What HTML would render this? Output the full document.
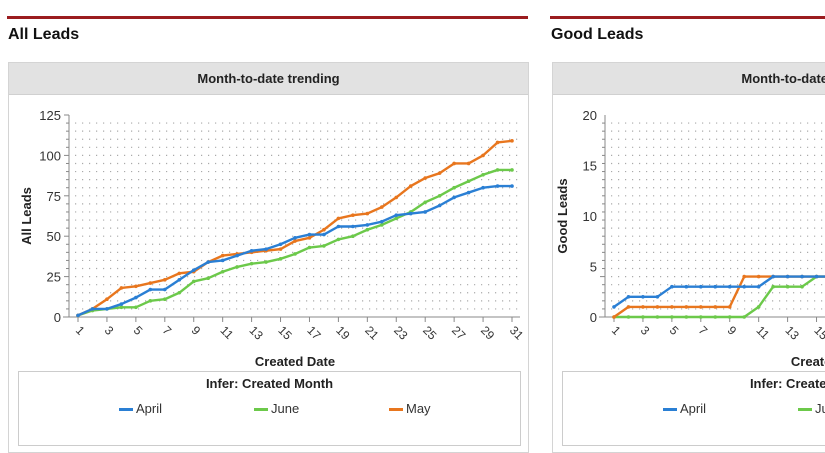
<!DOCTYPE html>
<html><head><meta charset="utf-8">
<style>
html,body{margin:0;width:825px;height:453px;overflow:hidden}
body{background:#fff;font-family:"Liberation Sans",sans-serif;position:relative}
.rule{position:absolute;top:16px;height:3px;background:#9b1c1f}
.title{position:absolute;top:26px;font-size:16px;font-weight:bold;color:#111}
.panel{position:absolute;top:62px;height:389px;border:1px solid #d4d4d4;background:#fff;overflow:hidden}
.phead{position:absolute;left:0;top:0;width:519px;height:31px;background:#e2e2e2;border-bottom:1px solid #d0d0d0;text-align:center;line-height:31px;font-size:13px;font-weight:bold;color:#222}
.legend{position:absolute;top:308px;height:75px;border:1px solid #ccc;box-sizing:border-box}
.ltitle{position:absolute;top:4px;left:0;right:0;text-align:center;font-size:13px;font-weight:bold;color:#222}
.lent{position:absolute;top:29px;font-size:13px;color:#333}
.lent i{display:inline-block;width:14px;height:3px;vertical-align:middle;margin-right:3px}
svg{position:absolute;left:0;top:0}
</style></head><body>
<div class="rule" style="left:7px;width:521px"></div>
<div class="rule" style="left:550px;width:275px"></div>
<div class="title" style="left:8px">All Leads</div>
<div class="title" style="left:551px">Good Leads</div>
<div class="panel" style="left:8px;width:519px">
 <div class="phead">Month-to-date trending</div>
 <div class="legend" style="left:9px;width:503px">
  <div class="ltitle">Infer: Created Month</div>
  <div class="lent" style="left:100px"><i style="background:#2a7fd4"></i>April</div>
  <div class="lent" style="left:235px"><i style="background:#6cc94a"></i>June</div>
  <div class="lent" style="left:370px"><i style="background:#e8761e"></i>May</div>
 </div>
</div>
<div class="panel" style="left:552px;width:272px;border-right:none">
 <div class="phead">Month-to-date trending</div>
 <div class="legend" style="left:9px;width:503px">
  <div class="ltitle">Infer: Created Month</div>
  <div class="lent" style="left:100px"><i style="background:#2a7fd4"></i>April</div>
  <div class="lent" style="left:235px"><i style="background:#6cc94a"></i>June</div>
 </div>
</div>
<svg id="chart" width="825" height="453">
 <defs><clipPath id="frame"><rect x="0" y="0" width="825" height="453"/></clipPath></defs>
</svg>
<script>
const days=[];for(let d=1;d<=31;d++)days.push(d);
const allApril=[1,5,5,8,12,17,17,23,29,34,35,38,41,42,45,49,51,51,56,56,57,59,63,64,65,69,74,77,80,81,81];
const allMay=[1,5,11,18,19,21,23,27,28,34,38,39,40,41,42,47,49,54,61,63,64,68,74,81,86,89,95,95,100,108,109];
const allJune=[1,4,5,6,6,10,11,15,22,24,28,31,33,34,36,39,43,44,48,50,54,57,61,65,71,75,80,84,88,91,91];
const goodApril=[1,2,2,2,3,3,3,3,3,3,3,4,4,4,4,4,4,4,5,5,5,5,5,6,6,6,6,6,6,6,6];
const goodMay=[0,1,1,1,1,1,1,1,1,4,4,4,4,4,4,4,5,5,5,5,5,6,6,6,6,6,7,7,7,7,7];
const goodJune=[0,0,0,0,0,0,0,0,0,0,1,3,3,3,4,4,4,4,4,5,5,5,5,5,6,6,6,6,6,6,6];
const allTicks=[0,25,50,75,100,125];
const goodTicks=[0,5,10,15,20];
const C={april:'#2a7fd4',june:'#6cc94a',may:'#e8761e'};
const NS='http://www.w3.org/2000/svg';
const svg=document.getElementById('chart');
function mk(t,a,p){const e=document.createElementNS(NS,t);for(const k in a)e.setAttribute(k,a[k]);(p||svg).appendChild(e);return e;}
function chart(cfg){
  const g=mk('g',{'clip-path':'url(#frame)'});
  
  
  const X=d=>cfg.x1+(d-1)*(cfg.x31-cfg.x1)/30;
  const Y=v=>cfg.y0-v*(cfg.y0-cfg.yTop)/cfg.max;
  const xEnd=Math.min(cfg.x31+8,825);
  const step=cfg.max/25;
  for(let v=step;v<cfg.max;v+=step){
    const l=mk('line',{x1:cfg.ax+6,x2:xEnd,y1:Y(v),y2:Y(v),stroke:'#aaa','stroke-width':1.2,'stroke-dasharray':'1.2 5.8'},g);
    
    
  }
  mk('line',{x1:cfg.ax,x2:cfg.ax,y1:cfg.yTop,y2:cfg.y0,stroke:'#888'},g);
  mk('line',{x1:cfg.ax-6,x2:xEnd,y1:cfg.y0,y2:cfg.y0,stroke:'#888'},g);
  for(let v=0;v<=cfg.max;v+=step) mk('line',{x1:cfg.ax-(v%(step*5)==0?5:3),x2:cfg.ax,y1:Y(v),y2:Y(v),stroke:'#888'},g);
  cfg.ticks.forEach(v=>{
    const t=mk('text',{x:cfg.ax-8,y:Y(v)+5,'text-anchor':'end','font-size':13,fill:'#333'},g);t.textContent=v;
    
    
  });
  days.forEach(d=>{ if(d%2==1 && X(d)<818){
    mk('line',{x1:X(d),x2:X(d),y1:cfg.y0,y2:cfg.y0+5,stroke:'#888'},g);
    const t=mk('text',{x:X(d)-3,y:cfg.y0+14,'font-size':12,fill:'#333',transform:`rotate(45 ${X(d)-3} ${cfg.y0+14})`},g);t.textContent=d;
    
    
  }});
  const yt=mk('text',{x:0,y:0,'font-size':13,'font-weight':'bold',fill:'#222','text-anchor':'middle',transform:`translate(${cfg.ax-38} ${(cfg.y0+cfg.yTop)/2}) rotate(-90)`},g);
  yt.textContent=cfg.ytitle;
  
  
  const xt=mk('text',{x:(cfg.x1+cfg.x31)/2,y:366,'font-size':13,'font-weight':'bold',fill:'#222','text-anchor':'middle'},g);
  xt.textContent='Created Date';
  
  
  cfg.series.forEach(s=>{
    const idx=s.vals.map((v,i)=>i).filter(i=>X(days[i])<=840);
    const pts=idx.map(i=>X(days[i])+','+Y(s.vals[i])).join(' ');
    const pl=mk('polyline',{points:pts,fill:'none',stroke:s.color,'stroke-width':2.4,'stroke-linejoin':'round'},g);
    
    
    idx.forEach(i=>{
      if(X(days[i])>823) return;
      const c=mk('circle',{cx:X(days[i]),cy:Y(s.vals[i]),r:1.8,fill:s.color},g);
      
      
    });
  });
}
chart({name:'all-leads-chart',ax:69,x1:78,x31:512,y0:317,yTop:115,max:125,ticks:allTicks,ytitle:'All Leads',
  series:[{key:'june',vals:allJune,color:C.june},{key:'may',vals:allMay,color:C.may},{key:'april',vals:allApril,color:C.april}]});
chart({name:'good-leads-chart',ax:605,x1:614,x31:1048,y0:317,yTop:115,max:20,ticks:goodTicks,ytitle:'Good Leads',
  series:[{key:'june',vals:goodJune,color:C.june},{key:'may',vals:goodMay,color:C.may},{key:'april',vals:goodApril,color:C.april}]});
</script>
</body></html>
